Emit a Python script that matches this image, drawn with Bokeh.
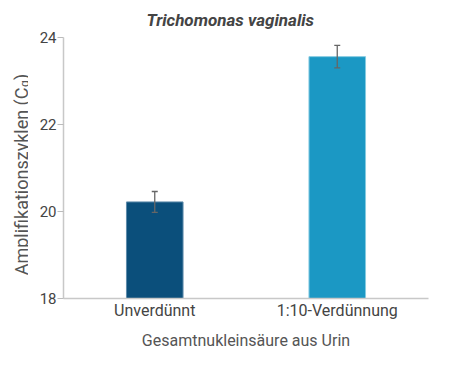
from bokeh.plotting import figure
from bokeh.models import ColumnDataSource, FactorRange, Range1d, Label, Whisker, TeeHead, FixedTicker
from bokeh.layouts import row
from bokeh.embed import file_html
from bokeh.resources import INLINE
import math

categories = ["Unverdünnt", "1:10-Verdünnung"]
cq_values = [20.22, 23.56]
cq_errors = [0.24, 0.26]
y_ticks = [18, 20, 22, 24]
title_text = "Trichomonas vaginalis"
x_title = "Gesamtnukleinsäure aus Urin"
y_title_main = "Amplifikationszyklen (C"
y_title_sub = "q"
y_title_end = ")"

bar_fill = ["#0b4f7b", "#1b98c4"]
bar_line = ["#5f8cab", "#86cbe2"]

FONT = "Roboto"

src = ColumnDataSource(dict(
    cat=categories,
    val=cq_values,
    upper=[v + e for v, e in zip(cq_values, cq_errors)],
    lower=[v - e for v, e in zip(cq_values, cq_errors)],
    fill=bar_fill,
    line=bar_line,
))

# ---- main chart ----
p = figure(width=416, height=352, x_range=FactorRange(factors=categories),
           y_range=Range1d(18, 24), output_backend="svg", toolbar_location=None,
           min_border_left=35, min_border_right=16, min_border_top=34, min_border_bottom=52)
p.outline_line_color = None
p.xgrid.grid_line_color = None
p.ygrid.grid_line_color = None

p.vbar(x="cat", top="val", bottom=18, width=0.31, source=src,
       fill_color="fill", line_color="line", line_width=1)

w = Whisker(base="cat", upper="upper", lower="lower", source=src, level="overlay",
            line_color="#666666", line_width=1.3,
            upper_head=TeeHead(size=6, line_color="#666666", line_width=1.3),
            lower_head=TeeHead(size=6, line_color="#666666", line_width=1.3))
p.add_layout(w)

p.title.text = title_text
p.title.align = "left"
p.title.offset = 83
p.title.text_font = FONT
p.title.text_font_size = "17px"
p.title.text_font_style = "bold italic"
p.title.text_color = "#444444"
p.title.standoff = 15

p.yaxis.ticker = FixedTicker(ticks=y_ticks)
p.yaxis.minor_tick_line_color = None
p.yaxis.major_tick_out = 6
p.yaxis.major_tick_in = 0
p.yaxis.major_tick_line_color = "#bbbbbb"
p.yaxis.axis_line_color = "#c8c8c8"
p.yaxis.axis_line_width = 1.5
p.yaxis.major_label_standoff = 1
p.yaxis.major_label_text_font = FONT
p.yaxis.major_label_text_font_size = "15px"
p.yaxis.major_label_text_color = "#444444"

p.xaxis.major_tick_line_color = None
p.xaxis.major_tick_out = 0
p.xaxis.major_tick_in = 0
p.xaxis.axis_line_color = "#c8c8c8"
p.xaxis.axis_line_width = 1.5
p.xaxis.major_label_standoff = 2
p.xaxis.major_label_text_font = FONT
p.xaxis.major_label_text_font_size = "16px"
p.xaxis.major_label_text_color = "#444444"
p.xaxis.axis_label = x_title
p.xaxis.axis_label_standoff = 8
p.xaxis.axis_label_text_font = FONT
p.xaxis.axis_label_text_font_size = "16px"
p.xaxis.axis_label_text_font_style = "normal"
p.xaxis.axis_label_text_color = "#555555"

# ---- narrow strip holding the rotated y-axis title ----
s = figure(frame_width=28, frame_height=352, title=None,
           x_range=Range1d(0, 1), y_range=Range1d(0, 1),
           output_backend="svg", toolbar_location=None,
           x_axis_location=None, y_axis_location=None,
           min_border_left=0, min_border_right=0, min_border_top=0, min_border_bottom=0)
s.outline_line_color = None
s.xgrid.grid_line_color = None
s.ygrid.grid_line_color = None

def add_label(fig, **kw):
    fig.add_layout(Label(x_units="screen", y_units="screen", text_font=FONT, **kw))

add_label(s, x=20.5, y=302, text=y_title_main, angle=math.pi / 2, text_font_size="18px",
          text_color="#555555", text_align="right", text_baseline="alphabetic")
add_label(s, x=24.0, y=302.5, text=y_title_sub, angle=math.pi / 2, text_font_size="12px",
          text_color="#555555", text_align="left", text_baseline="alphabetic")
add_label(s, x=20.5, y=309.5, text=y_title_end, angle=math.pi / 2, text_font_size="18px",
          text_color="#555555", text_align="left", text_baseline="alphabetic")

layout = row(s, p)
open("out.html", "w").write(file_html(layout, INLINE))
